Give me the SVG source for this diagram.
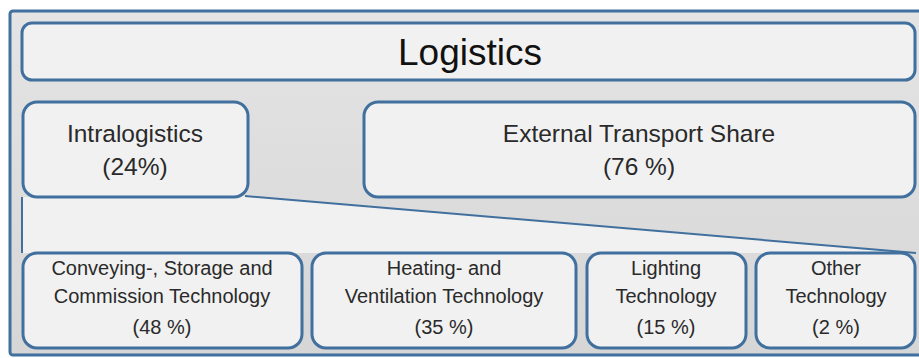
<svg xmlns="http://www.w3.org/2000/svg" width="919" height="358" viewBox="0 0 919 358">
<defs>
<linearGradient id="bg" x1="0" y1="0" x2="0" y2="1">
<stop offset="0" stop-color="#e4e4e4"/>
<stop offset="1" stop-color="#d6d6d6"/>
</linearGradient>
</defs>
<style>
.box{fill:#f1f1f1;stroke:#41709e;stroke-width:3}
.t{font-family:"Liberation Sans",Arial,sans-serif;fill:#2a2a2a;text-anchor:middle}
.big{font-size:37px;fill:#111}
.mid{font-size:24.5px}
.sm{font-size:20px}
</style>
<rect x="0" y="0" width="919" height="358" fill="#ffffff"/>
<g id="frame">
<rect x="10" y="11" width="920" height="344" rx="3" fill="url(#bg)" stroke="#41709e" stroke-width="3"/>
</g>
<g id="connectors">
<polygon points="22,197 245,196 916,253 22,253" fill="#f1f1f1"/>
<line x1="22" y1="197" x2="22" y2="253" stroke="#41709e" stroke-width="2"/>
<line x1="245" y1="196" x2="916" y2="253" stroke="#41709e" stroke-width="2"/>
</g>
<g id="logistics">
<rect class="box" x="22" y="23" width="893" height="57" rx="10"/>
<text class="t big" x="470" y="65">Logistics</text>
</g>
<g id="intralogistics">
<rect class="box" x="23" y="102" width="225" height="95" rx="14"/>
<text class="t mid" x="135" y="142">Intralogistics</text>
<text class="t mid" x="135" y="175">(24%)</text>
</g>
<g id="external">
<rect class="box" x="364" y="102" width="551" height="95" rx="14"/>
<text class="t mid" x="639" y="142">External Transport Share</text>
<text class="t mid" x="639" y="175">(76 %)</text>
</g>
<g id="conveying">
<rect class="box" x="23" y="253" width="279" height="95" rx="14"/>
<text class="t sm" x="162" y="275">Conveying-, Storage and</text>
<text class="t sm" x="162" y="303">Commission Technology</text>
<text class="t sm" x="162" y="334">(48 %)</text>
</g>
<g id="heating">
<rect class="box" x="312" y="253" width="264" height="95" rx="14"/>
<text class="t sm" x="444" y="275">Heating- and</text>
<text class="t sm" x="444" y="303">Ventilation Technology</text>
<text class="t sm" x="444" y="334">(35 %)</text>
</g>
<g id="lighting">
<rect class="box" x="587" y="253" width="159" height="95" rx="14"/>
<text class="t sm" x="666" y="275">Lighting</text>
<text class="t sm" x="666" y="303">Technology</text>
<text class="t sm" x="666" y="334">(15 %)</text>
</g>
<g id="other">
<rect class="box" x="756" y="253" width="159" height="95" rx="14"/>
<text class="t sm" x="836" y="275">Other</text>
<text class="t sm" x="836" y="303">Technology</text>
<text class="t sm" x="836" y="334">(2 %)</text>
</g>
</svg>
